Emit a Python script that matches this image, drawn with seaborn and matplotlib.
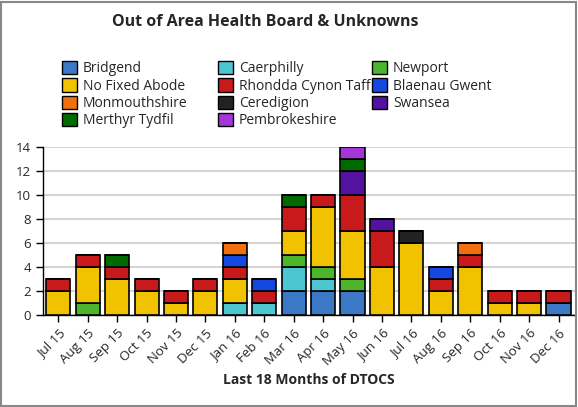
import pandas as pd
import seaborn as sns
import matplotlib.pyplot as plt
from matplotlib.patches import Patch, Rectangle

# months on the x axis
months = ['Jul 15', 'Aug 15', 'Sep 15', 'Oct 15', 'Nov 15', 'Dec 15',
          'Jan 16', 'Feb 16', 'Mar 16', 'Apr 16', 'May 16', 'Jun 16',
          'Jul 16', 'Aug 16', 'Sep 16', 'Oct 16', 'Nov 16', 'Dec 16']

# counts per health board, stacked bottom to top in this order
bridgend      = [0, 0, 0, 0, 0, 0, 0, 0, 2, 2, 2, 0, 0, 0, 0, 0, 0, 1]
caerphilly    = [0, 0, 0, 0, 0, 0, 1, 1, 2, 1, 0, 0, 0, 0, 0, 0, 0, 0]
newport       = [0, 1, 0, 0, 0, 0, 0, 0, 1, 1, 1, 0, 0, 0, 0, 0, 0, 0]
no_fixed      = [2, 3, 3, 2, 1, 2, 2, 0, 2, 5, 4, 4, 6, 2, 4, 1, 1, 0]
rhondda       = [1, 1, 1, 1, 1, 1, 1, 1, 2, 1, 3, 3, 0, 1, 1, 1, 1, 1]
blaenau       = [0, 0, 0, 0, 0, 0, 1, 1, 0, 0, 0, 0, 0, 1, 0, 0, 0, 0]
monmouth      = [0, 0, 0, 0, 0, 0, 1, 0, 0, 0, 0, 0, 0, 0, 1, 0, 0, 0]
ceredigion    = [0, 0, 0, 0, 0, 0, 0, 0, 0, 0, 0, 0, 1, 0, 0, 0, 0, 0]
swansea       = [0, 0, 0, 0, 0, 0, 0, 0, 0, 0, 2, 1, 0, 0, 0, 0, 0, 0]
merthyr       = [0, 0, 1, 0, 0, 0, 0, 0, 1, 0, 1, 0, 0, 0, 0, 0, 0, 0]
pembrokeshire = [0, 0, 0, 0, 0, 0, 0, 0, 0, 0, 1, 0, 0, 0, 0, 0, 0, 0]

series = [
    ('Bridgend', bridgend, '#3b78c6'),
    ('Caerphilly', caerphilly, '#4cc6d0'),
    ('Newport', newport, '#4cb52c'),
    ('No Fixed Abode', no_fixed, '#f0c200'),
    ('Rhondda Cynon Taff', rhondda, '#c81a1a'),
    ('Blaenau Gwent', blaenau, '#1448e0'),
    ('Monmouthshire', monmouth, '#f07010'),
    ('Ceredigion', ceredigion, '#222222'),
    ('Swansea', swansea, '#5312a0'),
    ('Merthyr Tydfil', merthyr, '#006a00'),
    ('Pembrokeshire', pembrokeshire, '#a236d8'),
]

sns.set_style('white')
plt.rcParams['font.family'] = ['Open Sans', 'DejaVu Sans']

fig = plt.figure(figsize=(5.78, 4.07), dpi=100)
ax = fig.add_axes([43 / 578, 1 - 315 / 407, 532 / 578, 168 / 407])

bottom = [0] * len(months)
for name, vals, col in series:
    df = pd.DataFrame({'month': months, 'count': vals})
    sns.barplot(data=df, x='month', y='count', color=col, bottom=bottom,
                width=0.82, edgecolor='black', linewidth=1.2, ax=ax,
                saturation=1, zorder=3)
    bottom = [b + v for b, v in zip(bottom, vals)]

ax.set_ylim(0, 14)
ax.set_xlim(-0.52, 17.56)
ax.set_yticks(range(0, 15, 2))
ax.yaxis.grid(True, color='#cccccc', linewidth=1.2, zorder=0)
ax.set_axisbelow(True)
for s in ['top', 'right']:
    ax.spines[s].set_visible(False)
for s in ['left', 'bottom']:
    ax.spines[s].set_color('black')
    ax.spines[s].set_linewidth(1)
ax.tick_params(axis='both', which='major', direction='out', length=5,
               width=1, color='black', labelsize=9.5, bottom=True, left=True)
plt.setp(ax.get_xticklabels(), rotation=45, ha='right', rotation_mode='anchor')
ax.set_ylabel('')
ax.set_xlabel('Last 18 Months of DTOCS', fontsize=10, fontweight='bold',
              labelpad=4)

fig.text(265 / 578, 1 - 22 / 407, 'Out of Area Health Board & Unknowns',
         ha='center', va='center', fontsize=11.5, fontweight='bold')

# legend laid out in three columns, row-wise like the original
cols_x = [62 / 578, 218 / 578, 372 / 578]
for c in range(3):
    items = series[c::3]
    handles = [Patch(facecolor=col, edgecolor='black', linewidth=1)
               for _, _, col in items]
    labels = [name for name, _, _ in items]
    fig.legend(handles, labels, loc='upper left',
               bbox_to_anchor=(cols_x[c], 1 - 61 / 407), frameon=False,
               fontsize=10, handlelength=1.1, handleheight=1.1,
               handletextpad=0.4, labelspacing=0.14, borderaxespad=0,
               borderpad=0)

# grey frame around the whole chart
fig.patches.append(Rectangle((0.002, 0.003), 0.995, 0.993,
                             transform=fig.transFigure, fill=False,
                             edgecolor='#888888', linewidth=1.5))

fig.savefig('out.png', dpi=100)
